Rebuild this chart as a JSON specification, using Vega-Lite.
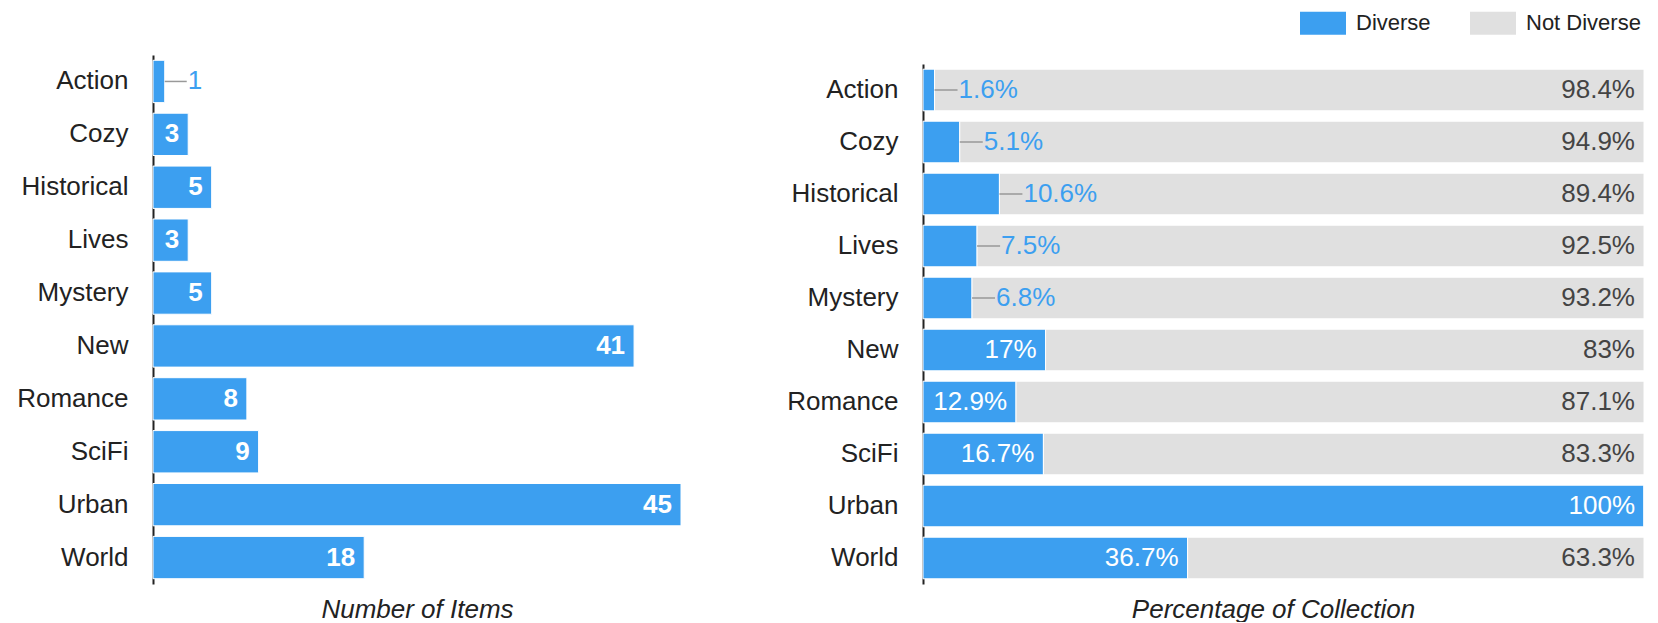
{
  "$schema": "https://vega.github.io/schema/vega-lite/v6.json",
  "padding": {"left": 16, "top": 0, "right": 0, "bottom": 0},
  "autosize": {"type": "pad"},
  "background": "white",
  "config": {
    "view": {"stroke": null},
    "font": "Liberation Sans",
    "axisY": {
      "title": null,
      "domain": true,
      "domainColor": "#222222",
      "domainWidth": 2,
      "ticks": false,
      "tickSize": 0,
      "grid": false,
      "labelPadding": 25,
      "labelFontSize": 26,
      "labelColor": "#222222",
      "labelFont": "Liberation Sans"
    },
    "axisX": {
      "domain": false,
      "labels": false,
      "ticks": false,
      "grid": false,
      "titleFontStyle": "italic",
      "titleFontWeight": "normal",
      "titleFontSize": 26,
      "titleColor": "#222222",
      "titlePadding": 12,
      "titleFont": "Liberation Sans"
    }
  },
  "datasets": {
    "counts": [
      {"genre": "Action", "items": 1},
      {"genre": "Cozy", "items": 3},
      {"genre": "Historical", "items": 5},
      {"genre": "Lives", "items": 3},
      {"genre": "Mystery", "items": 5},
      {"genre": "New", "items": 41},
      {"genre": "Romance", "items": 8},
      {"genre": "SciFi", "items": 9},
      {"genre": "Urban", "items": 45},
      {"genre": "World", "items": 18}
    ],
    "shares": [
      {"genre": "Action", "group": "Diverse", "share": 0.016},
      {"genre": "Action", "group": "Not Diverse", "share": 0.984},
      {"genre": "Cozy", "group": "Diverse", "share": 0.051},
      {"genre": "Cozy", "group": "Not Diverse", "share": 0.949},
      {"genre": "Historical", "group": "Diverse", "share": 0.106},
      {"genre": "Historical", "group": "Not Diverse", "share": 0.894},
      {"genre": "Lives", "group": "Diverse", "share": 0.075},
      {"genre": "Lives", "group": "Not Diverse", "share": 0.925},
      {"genre": "Mystery", "group": "Diverse", "share": 0.068},
      {"genre": "Mystery", "group": "Not Diverse", "share": 0.932},
      {"genre": "New", "group": "Diverse", "share": 0.17},
      {"genre": "New", "group": "Not Diverse", "share": 0.83},
      {"genre": "Romance", "group": "Diverse", "share": 0.129},
      {"genre": "Romance", "group": "Not Diverse", "share": 0.871},
      {"genre": "SciFi", "group": "Diverse", "share": 0.167},
      {"genre": "SciFi", "group": "Not Diverse", "share": 0.833},
      {"genre": "Urban", "group": "Diverse", "share": 1.0},
      {"genre": "Urban", "group": "Not Diverse", "share": 0.0},
      {"genre": "World", "group": "Diverse", "share": 0.367},
      {"genre": "World", "group": "Not Diverse", "share": 0.633}
    ]
  },
  "spacing": 104,
  "resolve": {
    "scale": {"x": "independent", "y": "independent", "color": "independent"},
    "legend": {"color": "independent"}
  },
  "hconcat": [
    {
      "width": 528,
      "height": 529,
      "data": {"name": "counts"},
      "encoding": {
        "y": {
          "field": "genre",
          "type": "nominal",
          "sort": null,
          "scale": {"paddingInner": 0.2, "paddingOuter": 0.1}
        }
      },
      "layer": [
        {
          "mark": {"type": "bar", "color": "#3c9ff0", "stroke": "white", "strokeWidth": 1},
          "encoding": {
            "x": {
              "field": "items",
              "type": "quantitative",
              "scale": {"domain": [0, 45], "nice": false},
              "axis": {"title": "Number of Items"}
            }
          }
        },
        {
          "transform": [{"filter": "datum.items >= 2"}],
          "mark": {"type": "text", "align": "right", "dx": -9, "color": "white", "fontWeight": "bold", "fontSize": 26, "baseline": "middle"},
          "encoding": {
            "x": {"field": "items", "type": "quantitative"},
            "text": {"field": "items", "type": "quantitative"}
          }
        },
        {
          "transform": [{"filter": "datum.items < 2"}],
          "mark": {"type": "rule", "color": "#999999", "strokeWidth": 1.5, "x2Offset": 22},
          "encoding": {
            "x": {"field": "items", "type": "quantitative"},
            "x2": {"field": "items"}
          }
        },
        {
          "transform": [{"filter": "datum.items < 2"}],
          "mark": {"type": "text", "align": "left", "dx": 23, "color": "#3c9ff0", "fontSize": 26, "baseline": "middle"},
          "encoding": {
            "x": {"field": "items", "type": "quantitative"},
            "text": {"field": "items", "type": "quantitative"}
          }
        }
      ]
    },
    {
      "width": 721,
      "height": 529,
      "data": {"name": "shares"},
      "encoding": {
        "y": {
          "field": "genre",
          "type": "nominal",
          "sort": null,
          "scale": {"range": [9, 529], "paddingInner": 0.2, "paddingOuter": 0.1}
        }
      },
      "layer": [
        {
          "mark": {"type": "bar", "stroke": "white", "strokeWidth": 1},
          "encoding": {
            "x": {
              "field": "share",
              "type": "quantitative",
              "stack": "zero",
              "scale": {"domain": [0, 1], "nice": false},
              "axis": {"title": "Percentage of Collection", "titleX": 350, "titleAlign": "center"}
            },
            "color": {
              "field": "group",
              "type": "nominal",
              "scale": {"domain": ["Diverse", "Not Diverse"], "range": ["#3c9ff0", "#e0e0e0"]},
              "legend": {
                "title": null,
                "orient": "none",
                "legendX": 377,
                "legendY": -55,
                "direction": "horizontal",
                "symbolType": "M-1,-0.5H1V0.5H-1Z",
                "symbolSize": 2116,
                "symbolStrokeWidth": 0,
                "symbolOpacity": 1,
                "labelFontSize": 22,
                "labelColor": "#222222",
                "labelFont": "Liberation Sans",
                "labelOffset": 10,
                "columnPadding": 39
              }
            },
            "order": {"field": "group"}
          }
        },
        {
          "transform": [{"filter": "datum.group == 'Diverse' && datum.share >= 0.11"}],
          "mark": {"type": "text", "align": "right", "dx": -9, "color": "white", "fontSize": 26, "baseline": "middle"},
          "encoding": {
            "x": {"field": "share", "type": "quantitative"},
            "text": {"field": "share", "type": "quantitative", "format": ".1~%"}
          }
        },
        {
          "transform": [{"filter": "datum.group == 'Not Diverse' && datum.share > 0"}],
          "mark": {"type": "text", "align": "right", "dx": -9, "color": "#444444", "fontSize": 26, "baseline": "middle"},
          "encoding": {
            "x": {"datum": 1, "type": "quantitative"},
            "text": {"field": "share", "type": "quantitative", "format": ".1~%"}
          }
        },
        {
          "transform": [{"filter": "datum.group == 'Diverse' && datum.share < 0.11"}],
          "mark": {"type": "rule", "color": "#999999", "strokeWidth": 1.5, "x2Offset": 23},
          "encoding": {
            "x": {"field": "share", "type": "quantitative"},
            "x2": {"field": "share"}
          }
        },
        {
          "transform": [{"filter": "datum.group == 'Diverse' && datum.share < 0.11"}],
          "mark": {"type": "text", "align": "left", "dx": 24, "color": "#3c9ff0", "fontSize": 26, "baseline": "middle"},
          "encoding": {
            "x": {"field": "share", "type": "quantitative"},
            "text": {"field": "share", "type": "quantitative", "format": ".1~%"}
          }
        }
      ]
    }
  ]
}
